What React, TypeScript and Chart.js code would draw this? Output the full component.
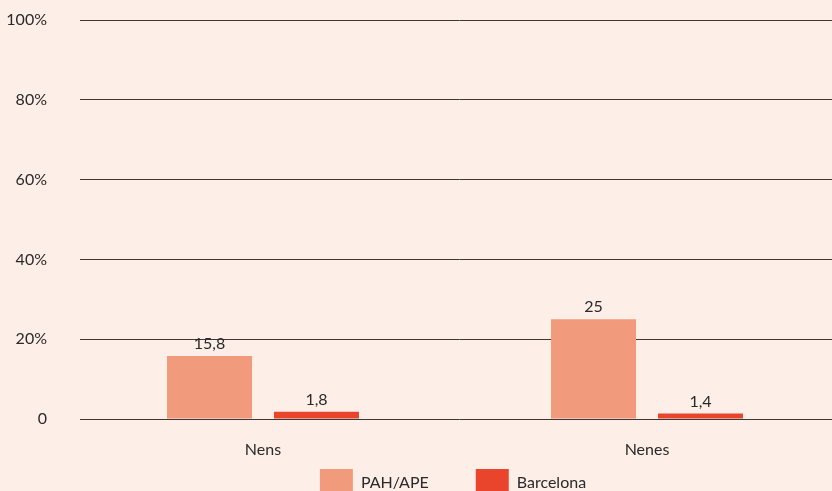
import React, { useEffect, useRef } from "react";
import { Chart, registerables } from "chart.js";

Chart.register(...registerables);

const categories = ["Nens", "Nenes"];
const seriesNames = ["PAH/APE", "Barcelona"];
const pahValues = [15.8, 25];
const bcnValues = [1.8, 1.4];
const yTickValues = [0, 20, 40, 60, 80, 100];
const yTickLabels = ["0", "20%", "40%", "60%", "80%", "100%"];

const BG = "#FDEEE7";
const TEXT = "#2a2a2a";
const GRID = "#3c3836";
const COL_PAH = "#F29A7C";
const COL_BCN = "#E8452C";
const FONT_SIZE = 16;

const fmt = (v: number) => String(v).replace(".", ",");

const dataLabelPlugin = {
  id: "dataLabels",
  afterDatasetsDraw(chart: any) {
    const ctx = chart.ctx;
    ctx.save();
    ctx.font = `${FONT_SIZE}px Lato`;
    ctx.fillStyle = TEXT;
    ctx.textAlign = "center";
    ctx.textBaseline = "middle";
    chart.data.datasets.forEach((ds: any, i: number) => {
      const meta = chart.getDatasetMeta(i);
      meta.data.forEach((el: any, j: number) => {
        ctx.fillText(fmt(ds.data[j]), el.x, el.y - 12);
      });
    });
    ctx.restore();
  },
};

export default function App() {
  const ref = useRef<HTMLCanvasElement | null>(null);
  useEffect(() => {
    if (!ref.current) return;
    Chart.defaults.font.family = "Lato";
    Chart.defaults.font.size = FONT_SIZE;
    Chart.defaults.color = TEXT;
    const chart = new Chart(ref.current, {
      type: "bar",
      data: {
        labels: categories,
        datasets: [
          {
            label: seriesNames[0],
            data: pahValues,
            backgroundColor: COL_PAH,
            borderWidth: 0,
            categoryPercentage: 0.557,
            barPercentage: 0.795,
          },
          {
            label: seriesNames[1],
            data: bcnValues,
            backgroundColor: COL_BCN,
            borderWidth: 0,
            categoryPercentage: 0.557,
            barPercentage: 0.795,
          },
        ],
      },
      options: {
        animation: false,
        responsive: false,
        devicePixelRatio: 1,
        layout: { padding: { top: 20, left: 0, right: 0, bottom: 0 } },
        plugins: {
          legend: {
            position: "bottom",
            labels: {
              boxWidth: 33,
              boxHeight: 27,
              padding: 47,
              color: TEXT,
              font: { family: "Lato", size: FONT_SIZE },
            },
          },
          tooltip: { enabled: false },
        },
        scales: {
          x: {
            grid: { display: false },
            border: { display: false },
            ticks: {
              mirror: true,
              padding: -40,
              autoSkip: false,
              maxRotation: 0,
              color: TEXT,
              font: { family: "Lato", size: FONT_SIZE },
            },
            afterFit: (s: any) => {
              s.height = 3;
            },
          },
          y: {
            min: 0,
            max: 100,
            afterBuildTicks: (s: any) => {
              s.ticks = yTickValues.map((v) => ({ value: v }));
            },
            ticks: {
              padding: 0,
              color: TEXT,
              font: { family: "Lato", size: FONT_SIZE },
              callback: (v: any) => yTickLabels[yTickValues.indexOf(Number(v))],
            },
            grid: {
              color: GRID,
              lineWidth: 1,
              drawTicks: true,
              tickLength: 24,
              tickColor: "rgba(0,0,0,0)",
            },
            border: { display: true, color: BG, width: 18 },
            afterFit: (s: any) => {
              s.width = 71;
            },
          },
          y2: {
            type: "linear",
            position: "right",
            display: true,
            ticks: { display: false },
            grid: { display: false },
            border: { display: false },
            afterFit: (s: any) => {
              s.width = 67;
            },
          },
        },
      },
      plugins: [dataLabelPlugin],
    } as any);
    return () => chart.destroy();
  }, []);

  return (
    <div
      style={{
        position: "fixed",
        left: 0,
        top: 0,
        width: 832,
        height: 491,
        overflow: "hidden",
        background: BG,
      }}
    >
      <canvas ref={ref} width={906} height={506} style={{ display: "block" }} />
    </div>
  );
}
